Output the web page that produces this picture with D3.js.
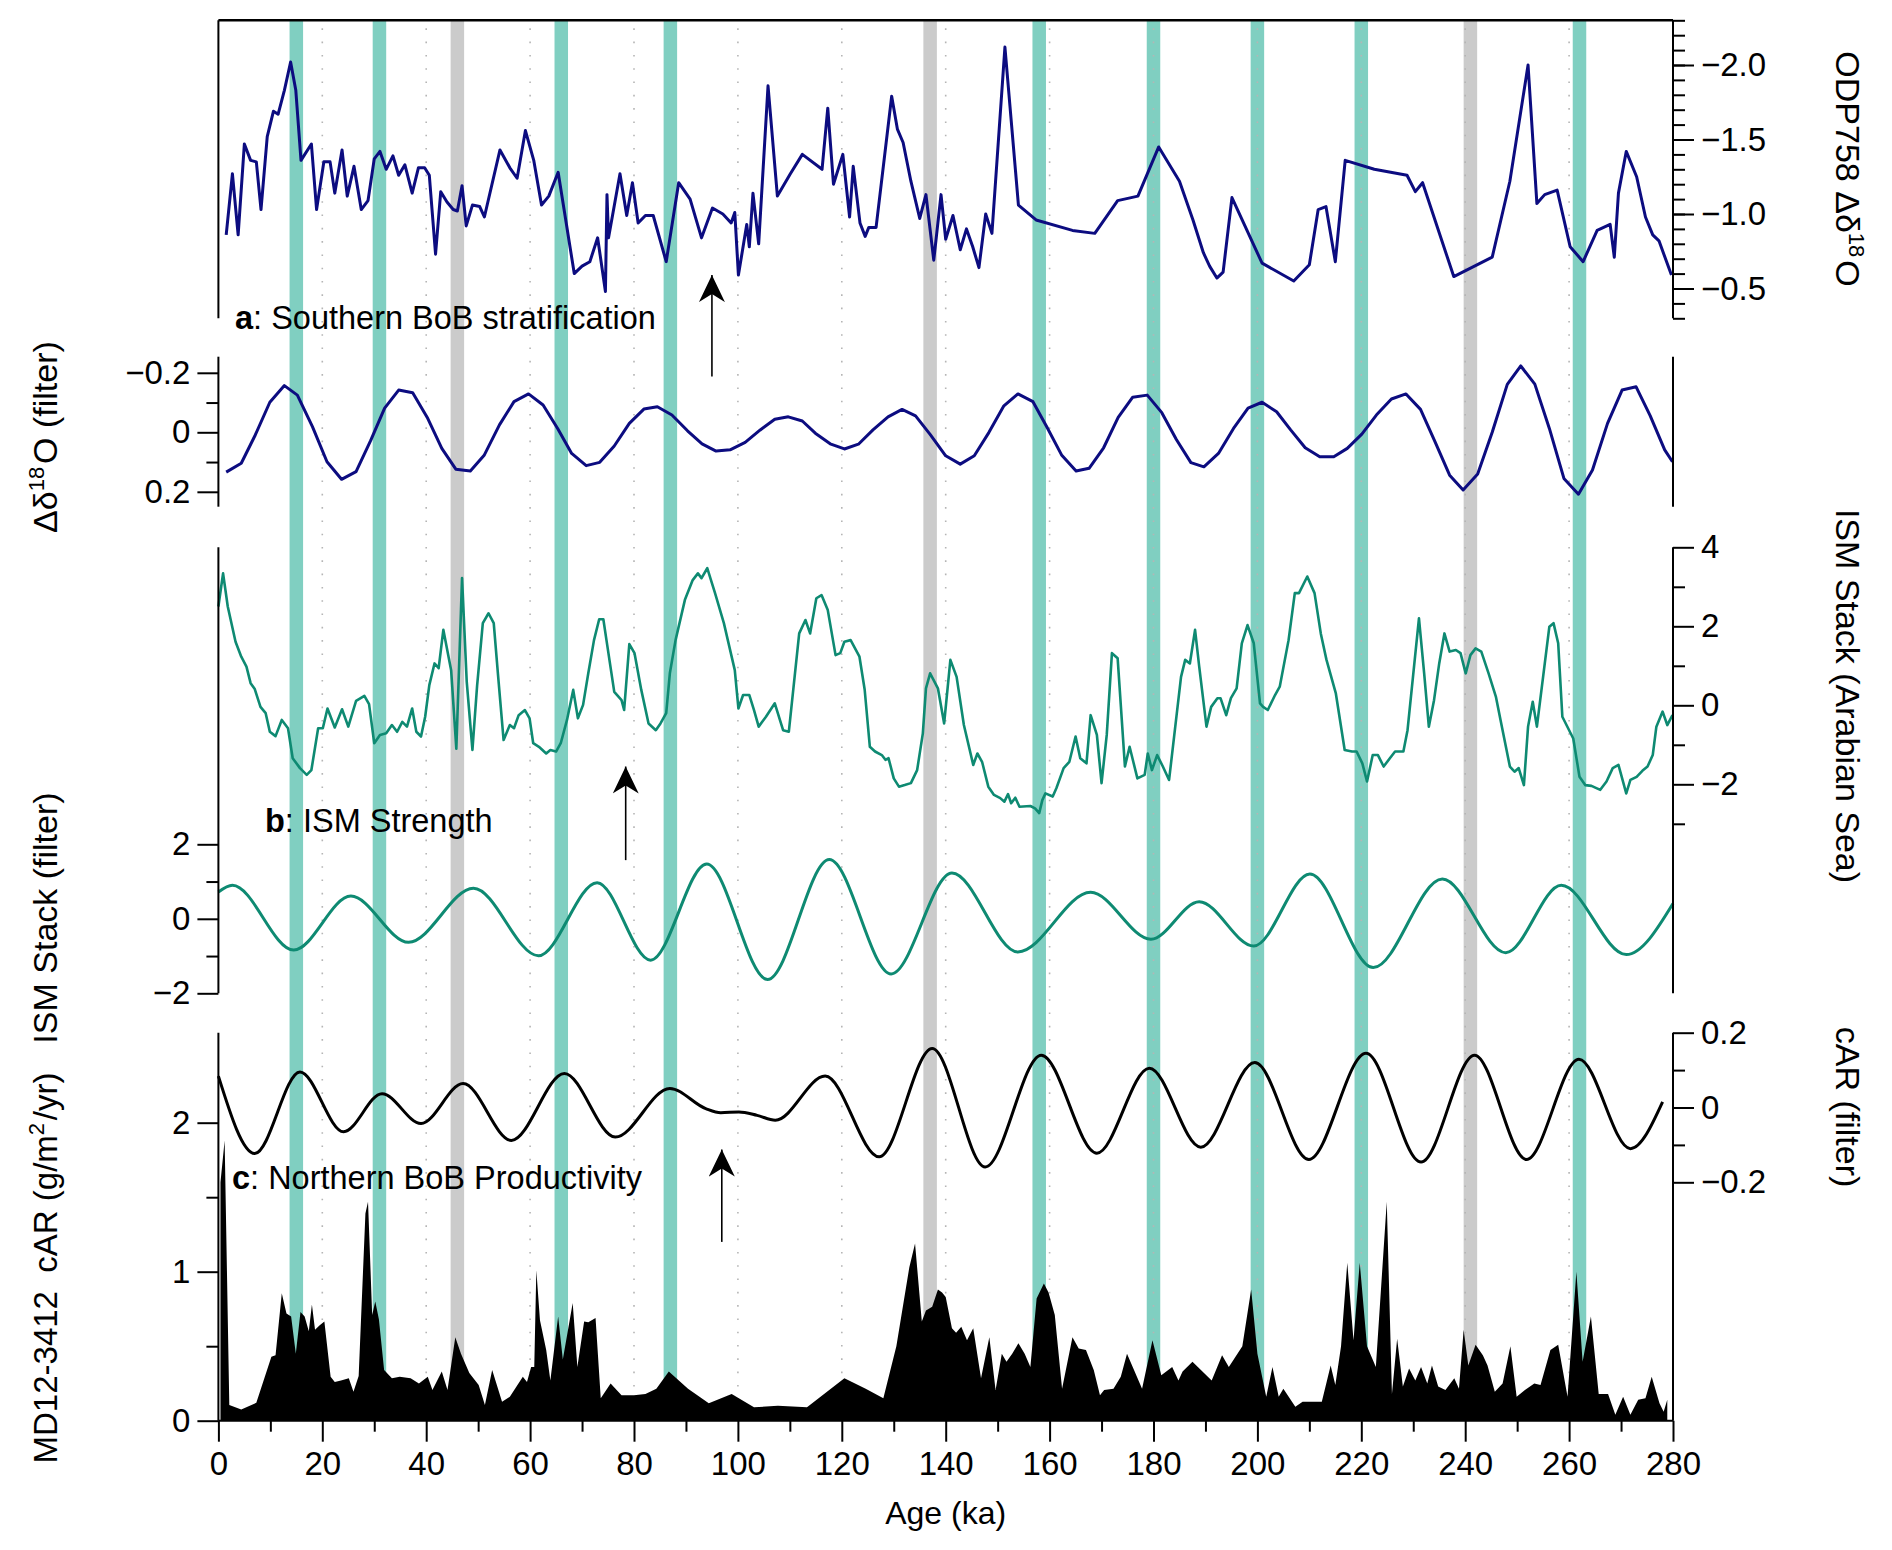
<!DOCTYPE html>
<html lang="en">
<head>
<meta charset="UTF-8">
<title>BoB stratification, ISM strength and productivity</title>
<script src="https://cdn.jsdelivr.net/npm/d3@7"></script>
<style>
  body { margin: 0; background: #fff; }
  svg text { font-family: "Liberation Sans", Arial, Helvetica, sans-serif; fill: #000; white-space: pre; }
</style>
</head>
<body>
<div id="chart"></div>
<script>
// ---- data ----
var tealBands = [15, 31, 66, 87, 158, 180, 200, 220, 262];
var greyBands = [46, 137, 241];
var xTicks = d3.range(0, 281, 20);
var xMinor = d3.range(10, 280, 20);

// a: ODP758 delta d18O (raw)
var odpAge = [1.5,2.7,3.8,5.0,6.2,7.3,8.2,9.4,10.6,11.5,12.7,13.9,14.9,15.9,17.9,18.9,20.3,21.5,22.4,23.8,24.8,26.1,27.5,28.8,30.0,31.1,32.3,33.6,34.7,35.9,37.3,38.5,39.7,40.6,41.8,42.8,44.0,45.2,46.0,46.9,47.7,48.9,50.3,51.2,54.2,56.1,57.5,59.1,60.7,62.2,63.6,65.4,68.5,70.0,71.5,73.0,74.5,74.8,75.1,77.3,78.6,79.7,80.8,82.2,83.7,86.2,88.6,90.8,93.0,95.1,97.1,98.7,99.4,100.1,101.7,102.2,102.9,104.0,105.8,107.6,110.1,112.4,116.2,117.3,118.4,120.2,121.5,122.2,123.5,124.5,125.2,126.6,129.6,130.7,131.8,133.3,135.0,136.2,137.7,139.1,140.0,141.4,142.8,144.0,145.2,146.4,147.7,148.9,151.4,154.0,157.4,164.4,168.7,173.1,177.0,181.0,185.0,187.6,189.6,190.8,192.2,193.4,195.1,200.9,207.0,210.0,211.7,213.2,215.0,216.9,222.5,228.8,230.4,231.8,237.8,245.2,248.6,252.1,253.8,255.3,257.7,260.2,262.7,265.4,267.9,268.7,269.5,271.0,273.0,274.7,276.1,277.3,279.7];
var odpVal = [-0.86,-1.27,-0.86,-1.47,-1.36,-1.35,-1.03,-1.52,-1.69,-1.67,-1.83,-2.02,-1.83,-1.36,-1.47,-1.03,-1.35,-1.35,-1.14,-1.43,-1.12,-1.32,-1.03,-1.09,-1.37,-1.42,-1.30,-1.39,-1.26,-1.33,-1.14,-1.31,-1.31,-1.26,-0.73,-1.15,-1.08,-1.03,-1.02,-1.19,-0.92,-1.06,-1.05,-0.98,-1.43,-1.31,-1.24,-1.56,-1.36,-1.06,-1.12,-1.28,-0.60,-0.65,-0.68,-0.84,-0.48,-1.13,-0.84,-1.27,-0.99,-1.21,-0.94,-0.99,-0.99,-0.68,-1.21,-1.10,-0.84,-1.04,-1.00,-0.94,-1.01,-0.59,-0.93,-0.78,-1.14,-0.80,-1.86,-1.12,-1.27,-1.40,-1.30,-1.71,-1.20,-1.40,-0.98,-1.32,-0.94,-0.85,-0.91,-0.91,-1.79,-1.57,-1.48,-1.22,-0.97,-1.13,-0.69,-1.13,-0.83,-0.99,-0.76,-0.90,-0.78,-0.64,-1.00,-0.87,-2.12,-1.06,-0.96,-0.89,-0.87,-1.09,-1.12,-1.45,-1.22,-0.96,-0.74,-0.65,-0.57,-0.61,-1.11,-0.67,-0.55,-0.66,-1.03,-1.05,-0.68,-1.36,-1.30,-1.26,-1.15,-1.21,-0.58,-0.71,-1.22,-2.00,-1.07,-1.13,-1.16,-0.78,-0.68,-0.89,-0.93,-0.71,-1.14,-1.42,-1.25,-0.98,-0.86,-0.82,-0.59];

// a: filtered
var odpFiltAge = [1.5,4.4,7.1,9.9,12.7,15.2,18.1,20.9,23.7,26.5,29.3,32.0,34.7,37.4,40.2,43.0,45.7,48.5,51.2,54.1,56.9,59.7,62.5,65.3,68.0,70.8,73.4,76.2,79.1,81.9,84.5,87.3,90.3,93.1,95.8,98.5,101.4,104.3,107.1,109.7,112.4,114.9,117.9,120.5,123.2,126.0,128.9,131.6,134.2,137.0,140.0,142.8,145.5,148.3,151.2,153.9,156.8,159.5,162.3,165.1,167.6,170.4,173.2,176.0,178.8,181.6,184.4,187.2,189.7,192.5,195.4,198.2,200.9,203.7,206.4,209.2,212.0,214.7,217.3,220.1,222.9,225.8,228.6,231.4,234.2,237.0,239.6,242.4,245.2,248.1,250.7,253.4,256.2,259.0,261.8,264.5,267.4,270.2,272.9,275.6,278.4,279.9];
var odpFiltVal = [0.134,0.104,0.009,-0.101,-0.157,-0.125,-0.019,0.099,0.158,0.132,0.028,-0.081,-0.142,-0.133,-0.050,0.054,0.124,0.130,0.076,-0.025,-0.103,-0.129,-0.092,-0.013,0.071,0.112,0.101,0.046,-0.030,-0.078,-0.086,-0.058,-0.005,0.039,0.063,0.059,0.034,-0.008,-0.044,-0.052,-0.038,0.003,0.040,0.056,0.040,-0.008,-0.052,-0.077,-0.055,0.007,0.079,0.107,0.079,0.001,-0.089,-0.129,-0.103,-0.017,0.076,0.130,0.121,0.052,-0.050,-0.118,-0.125,-0.066,0.024,0.102,0.116,0.071,-0.013,-0.081,-0.101,-0.069,-0.008,0.052,0.082,0.082,0.054,0.006,-0.058,-0.112,-0.129,-0.077,0.032,0.144,0.194,0.140,0.000,-0.161,-0.223,-0.162,-0.013,0.155,0.208,0.127,-0.030,-0.142,-0.153,-0.056,0.059,0.099];

// b: ISM stack (Arabian Sea)
var ismAge = [0,0.9,1.8,3.3,4.4,5.4,6.2,7.0,8.1,9.1,9.9,11.0,12.2,13.4,14.3,15.7,17.0,17.9,19.2,20.1,21.0,22.4,23.8,25.0,26.5,28.1,29.0,30.0,31.1,32.3,33.4,34.4,35.4,36.3,37.3,38.1,39.0,39.8,40.6,41.6,42.4,43.3,44.8,45.8,46.9,47.8,48.9,49.8,50.9,52.0,53.0,53.8,54.9,56.1,56.9,57.8,59.0,59.9,60.6,61.7,63.1,63.9,65.0,65.9,67.1,68.3,69.2,70.2,71.2,72.3,73.3,74.1,74.7,76.2,77.6,78.1,79.1,80.1,81.4,82.8,84.2,85.1,86.2,86.9,88.0,89.8,91.3,92.3,93.0,94.1,95.6,97.3,99.4,100.1,101.0,102.2,103.1,104.0,105.4,107.1,108.7,109.8,111.8,113.0,113.9,115.1,116.1,117.3,118.8,119.7,120.5,121.7,123.4,124.4,125.4,126.4,127.7,128.4,129.0,130.0,131.0,132.1,133.3,134.5,135.6,136.2,137.0,138.5,139.7,140.9,142.1,143.5,145.3,146.1,147.0,148.2,149.3,150.5,151.3,152.0,152.6,153.4,154.2,156.3,157.2,158.0,158.6,159.2,160.6,161.3,162.7,163.8,165.0,165.9,167.1,167.9,169.1,170.0,171.0,172.0,173.1,174.5,175.4,176.9,178.3,178.9,179.7,180.7,181.8,183.0,185.3,186.1,187.0,188.0,188.8,190.2,191.1,192.3,192.9,194.0,194.9,196.0,197.0,198.1,199.3,200.5,201.1,202.0,203.4,204.3,206.0,207.2,208.0,209.6,211.0,212.2,213.3,215.1,216.8,218.2,219.1,220.2,221.1,222.2,223.2,224.3,225.5,226.5,228.1,228.9,231.1,232.1,233.0,234.0,235.0,236.0,237.0,238.2,239.1,240.1,241.0,242.0,243.1,244.5,245.9,246.8,248.6,249.5,250.3,251.3,252.1,253.0,253.8,256.2,257.0,257.9,258.7,260.8,262.0,263.1,264.3,266.0,267.2,268.4,269.5,271.0,271.8,273.0,274.1,275.1,276.1,276.8,278.0,278.9,279.9];
var ismVal = [2.50,3.34,2.50,1.61,1.23,0.98,0.56,0.41,-0.04,-0.20,-0.67,-0.78,-0.37,-0.58,-1.34,-1.59,-1.76,-1.64,-0.58,-0.58,-0.08,-0.56,-0.10,-0.54,0.11,0.24,0.03,-0.96,-0.75,-0.71,-0.50,-0.67,-0.42,-0.54,-0.08,-0.67,-0.79,-0.29,0.51,1.06,0.94,1.91,0.89,-1.10,3.22,0.60,-1.13,0.50,2.08,2.33,2.08,0.81,-0.88,-0.50,-0.58,-0.25,-0.12,-0.33,-0.96,-1.05,-1.22,-1.13,-1.17,-0.96,-0.37,0.39,-0.33,0.01,0.81,1.65,2.18,2.18,1.65,0.34,0.13,-0.12,1.55,1.32,0.39,-0.46,-0.63,-0.46,-0.20,0.81,1.65,2.67,3.17,3.34,3.22,3.47,2.84,2.08,0.89,-0.08,0.26,0.26,-0.12,-0.54,-0.29,0.05,-0.63,-0.67,1.82,2.16,1.82,2.71,2.79,2.41,1.27,1.32,1.61,1.65,1.23,0.40,-1.05,-1.17,-1.26,-1.38,-1.34,-1.85,-2.06,-2.02,-1.97,-1.64,-0.71,0.43,0.81,0.43,-0.46,1.15,0.72,-0.50,-1.51,-1.22,-1.43,-2.06,-2.27,-2.35,-2.44,-2.25,-2.48,-2.34,-2.57,-2.55,-2.61,-2.73,-2.40,-2.23,-2.31,-2.10,-1.59,-1.43,-0.79,-1.34,-1.47,-0.25,-0.75,-1.97,-0.75,1.32,1.19,-1.55,-1.05,-1.85,-1.76,-1.22,-1.64,-1.26,-1.55,-1.89,0.72,1.15,1.06,1.91,0.98,-0.54,-0.04,0.18,0.18,-0.25,0.18,0.43,1.57,2.03,1.57,0.05,-0.04,-0.12,0.26,0.47,1.65,2.84,2.84,3.26,2.84,1.82,1.15,0.30,-1.13,-1.17,-1.17,-1.47,-1.93,-1.26,-1.26,-1.55,-1.34,-1.17,-1.17,-0.63,2.20,0.81,-0.54,0.13,1.06,1.82,1.36,1.40,1.32,0.81,1.27,1.44,1.36,0.81,0.22,-0.37,-1.55,-1.68,-1.59,-2.02,-0.54,0.09,-0.54,1.99,2.08,1.57,-0.29,-0.84,-1.81,-2.02,-2.04,-2.14,-1.93,-1.59,-1.51,-2.23,-1.89,-1.81,-1.66,-1.55,-1.26,-0.54,-0.16,-0.50,-0.25];

// b: ISM stack filtered (turning points)
var ismFiltAge = [0,2.7,14.5,25.5,36.6,49.1,61.6,72.9,83.2,94.0,105.7,117.6,129.5,141.2,153.9,167.9,179.5,188.8,199.3,210.1,222.3,235.6,247.8,258.5,271.0,280];
var ismFiltVal = [0.72,0.90,-0.84,0.61,-0.63,0.82,-0.99,0.97,-1.11,1.47,-1.63,1.59,-1.48,1.23,-0.89,0.71,-0.55,0.46,-0.73,1.20,-1.31,1.07,-0.91,0.90,-0.96,0.41];

// c: cAR filtered (turning points)
var carFiltAge = [0,7.0,15.7,24.1,31.5,39.0,47.1,56.4,66.6,76.4,86.9,93.8,96.7,100.2,103.7,107.2,116.8,127.2,137.4,147.6,158.4,169.1,179.2,189.1,199.5,209.9,220.9,231.5,241.8,251.8,261.9,271.8,278.0];
var carFiltVal = [0.084,-0.123,0.095,-0.065,0.037,-0.043,0.064,-0.088,0.091,-0.079,0.051,-0.003,-0.014,-0.012,-0.021,-0.034,0.084,-0.132,0.158,-0.159,0.140,-0.122,0.105,-0.106,0.120,-0.139,0.145,-0.146,0.140,-0.139,0.129,-0.110,0.015];

// c: MD12-3412 cAR
var carAge = [0.4,1.2,2.1,4.4,7.3,10.2,11.0,12.2,13.1,14.0,14.9,15.8,16.6,17.4,18.0,18.6,19.5,20.4,21.6,22.4,23.6,25.1,26.0,27.0,28.3,28.8,29.6,30.2,30.9,31.9,33.4,34.9,37.0,38.6,40.3,41.2,43.0,44.1,45.6,46.7,48.3,50.1,51.3,52.7,54.6,56.1,58.6,59.4,60.2,60.8,61.2,61.9,63.1,63.9,65.4,66.3,68.2,69.1,70.4,71.2,72.6,73.6,75.5,77.6,80.0,82.2,84.3,86.7,90.4,94.4,98.8,103.1,107.7,113.3,120.5,124.6,128.0,130.5,133.0,134.1,135.4,136.2,137.4,138.5,139.3,140.0,141.2,142.0,143.0,144.1,145.3,146.8,148.4,149.6,150.8,151.7,152.8,154.0,155.2,156.3,157.5,158.9,159.8,161.0,162.4,164.4,165.6,167.0,168.5,169.7,170.5,172.3,173.7,174.9,176.0,177.8,179.8,181.5,183.6,184.8,185.6,187.5,191.2,193.2,194.5,197.1,198.8,200.0,201.7,202.9,204.1,205.0,207.3,208.7,212.4,214.1,215.0,216.1,217.3,218.5,219.7,221.1,222.8,224.9,225.9,226.9,228.0,229.2,230.4,231.5,232.7,233.6,234.8,236.2,237.9,238.8,239.7,240.6,242.0,243.4,244.3,245.7,247.2,248.7,249.9,251.5,253.3,254.5,256.4,257.9,259.7,261.4,262.6,264.2,265.7,267.5,268.9,270.4,271.8,273.3,274.7,275.9,277.4,278.2,278.9];
var carVal = [1.60,1.88,0.105,0.076,0.12,0.43,0.44,0.855,0.72,0.70,0.45,0.73,0.70,0.60,0.78,0.61,0.64,0.665,0.295,0.26,0.27,0.285,0.195,0.30,1.39,1.47,0.71,0.80,0.68,0.34,0.285,0.295,0.285,0.25,0.295,0.206,0.33,0.206,0.56,0.45,0.32,0.24,0.105,0.34,0.128,0.16,0.295,0.26,0.36,0.36,1.01,0.675,0.475,0.27,0.70,0.41,0.79,0.36,0.665,0.66,0.69,0.15,0.25,0.17,0.17,0.18,0.215,0.33,0.215,0.117,0.18,0.09,0.10,0.09,0.285,0.215,0.15,0.50,1.03,1.19,0.665,0.74,0.765,0.88,0.86,0.83,0.62,0.59,0.63,0.54,0.62,0.285,0.56,0.206,0.45,0.395,0.45,0.52,0.45,0.36,0.82,0.92,0.86,0.71,0.215,0.56,0.485,0.475,0.34,0.17,0.206,0.215,0.295,0.45,0.36,0.215,0.54,0.305,0.36,0.27,0.33,0.395,0.27,0.44,0.36,0.50,0.88,0.45,0.16,0.36,0.16,0.215,0.094,0.128,0.128,0.37,0.24,0.50,1.06,0.54,1.06,0.50,0.36,1.47,0.18,0.55,0.23,0.35,0.27,0.36,0.25,0.37,0.23,0.206,0.285,0.215,0.61,0.37,0.51,0.44,0.37,0.195,0.25,0.50,0.16,0.206,0.25,0.24,0.475,0.51,0.16,1.00,0.395,0.70,0.18,0.18,0.04,0.16,0.04,0.14,0.15,0.295,0.117,0.06,0.14];

// arrows: [age, value at tail, value at tip], in each panel's own units
var arrowA = [95.0, 0.09, -0.59];
var arrowB = [78.4, -3.92, -1.55];
var arrowC = [96.9, 1.20, 1.82];

// ---- layout ----
var W = 1892, H = 1550;
var X0 = 218.4, X1 = 1673;
var BLUE = "#0c0c80", GREEN = "#0e8a72", TEAL = "#80cfc1", GREY = "#cbcbcb";

var svg = d3.select("#chart").append("svg")
    .attr("width", W).attr("height", H)
    .style("background", "#fff");

var x = d3.scaleLinear().domain([0, 280]).range([X0, X1]);

// y scales, one per curve
var yA  = d3.scaleLinear().domain([-2.3, -0.3]).range([20.3, 318.3]);
var yAf = d3.scaleLinear().domain([-0.2, 0.2]).range([372.8, 491.8]);
var yB  = d3.scaleLinear().domain([-2, 4]).range([784.3, 547.3]);
var yBf = d3.scaleLinear().domain([-2, 2]).range([993.3, 844.3]);
var yCf = d3.scaleLinear().domain([-0.2, 0.2]).range([1182.3, 1032.7]);
var yC  = d3.scaleLinear().domain([0, 2.6]).range([1420.7, 1033.3]);

var TOP = 20.3, BOTTOM = 1420.7;

function zip(a, b) { return a.map(function(v, i) { return [v, b[i]]; }); }

// shaded event bands
var bands = tealBands.map(function(c) { return {c: c, col: TEAL}; })
    .concat(greyBands.map(function(c) { return {c: c, col: GREY}; }));
svg.append("g").selectAll("rect")
    .data(bands)
    .enter().append("rect")
    .attr("x", function(d) { return x(d.c - 1.3); })
    .attr("width", function(d) { return x(d.c + 1.3) - x(d.c - 1.3); })
    .attr("y", TOP)
    .attr("height", BOTTOM - TOP)
    .attr("fill", function(d) { return d.col; });

// dotted guides every 20 ka
svg.append("g").selectAll("line")
    .data(d3.range(20, 280, 20))
    .enter().append("line")
    .attr("x1", function(d) { return x(d); })
    .attr("x2", function(d) { return x(d); })
    .attr("y1", TOP + 8).attr("y2", BOTTOM)
    .attr("stroke", "#b5b5b5")
    .attr("stroke-width", 1.6)
    .attr("stroke-dasharray", "1.6,11.7");

// c: cAR filled area
svg.append("path")
    .datum(zip(carAge, carVal))
    .attr("fill", "#000")
    .attr("d", d3.area()
        .x(function(d) { return x(d[0]); })
        .y0(yC(0))
        .y1(function(d) { return yC(d[1]); }));

// curves
function drawLine(data, y, color, width, curve) {
    svg.append("path")
        .datum(data)
        .attr("fill", "none")
        .attr("stroke", color)
        .attr("stroke-width", width)
        .attr("stroke-linejoin", "round")
        .attr("d", d3.line()
            .curve(curve || d3.curveLinear)
            .x(function(d) { return x(d[0]); })
            .y(function(d) { return y(d[1]); }));
}
drawLine(zip(odpAge, odpVal), yA, BLUE, 3);
drawLine(zip(odpFiltAge, odpFiltVal), yAf, BLUE, 3);
drawLine(zip(ismAge, ismVal), yB, GREEN, 2.6);
drawLine(zip(ismFiltAge, ismFiltVal), yBf, GREEN, 3, d3.curveMonotoneX);
drawLine(zip(carFiltAge, carFiltVal), yCf, "#000", 3, d3.curveMonotoneX);

// ---- axes ----
var fmtTick = function(d) { return d === 0 ? "0" : d3.format(".1f")(d); };
var fmtInt = d3.format("d");

function styleAxis(g) {
    g.select(".domain").remove();
    g.selectAll("line").attr("stroke", "#000").attr("stroke-width", 2);
    g.selectAll("text")
        .attr("font-size", 33)
        .attr("font-family", "'Liberation Sans', Arial, sans-serif")
        .attr("fill", "#000");
}
function addAxis(axis, tx, ty) {
    svg.append("g").attr("transform", "translate(" + tx + "," + ty + ")").call(axis).call(styleAxis);
}
function vline(xp, y1, y2) {
    svg.append("line").attr("x1", xp).attr("x2", xp).attr("y1", y1).attr("y2", y2)
        .attr("stroke", "#000").attr("stroke-width", 2);
}

// frame lines
svg.append("line").attr("x1", X0).attr("x2", X1).attr("y1", TOP).attr("y2", TOP)
    .attr("stroke", "#000").attr("stroke-width", 2.5);
vline(X0, TOP, 318.3);
vline(X1, TOP, 318.3);
vline(X0, 356.7, 506.7);
vline(X1, 356.7, 506.7);
vline(X0, 547.3, 993.3);
vline(X1, 547.3, 993.3);
vline(X0, 1032.7, BOTTOM);
vline(X1, 1032.7, BOTTOM);

// a: right axis
addAxis(d3.axisRight(yA).tickValues([-2, -1.5, -1, -0.5]).tickFormat(d3.format(".1f")).tickSize(21).tickPadding(7), X1, 0);
addAxis(d3.axisRight(yA).tickValues(d3.range(-23, -2, 1).map(function(d) { return d / 10; })).tickFormat("").tickSize(12), X1, 0);
// a filter: left axis
addAxis(d3.axisLeft(yAf).tickValues([-0.2, 0, 0.2]).tickFormat(fmtTick).tickSize(21).tickPadding(7), X0, 0);
addAxis(d3.axisLeft(yAf).tickValues([-0.1, 0.1]).tickFormat("").tickSize(12), X0, 0);
// b: right axis
addAxis(d3.axisRight(yB).tickValues([4, 2, 0, -2]).tickFormat(fmtInt).tickSize(21).tickPadding(7), X1, 0);
addAxis(d3.axisRight(yB).tickValues([3, 1, -1, -3]).tickFormat("").tickSize(12), X1, 0);
// b filter: left axis
addAxis(d3.axisLeft(yBf).tickValues([2, 0, -2]).tickFormat(fmtInt).tickSize(21).tickPadding(7), X0, 0);
addAxis(d3.axisLeft(yBf).tickValues([1, -1]).tickFormat("").tickSize(12), X0, 0);
// c filter: right axis
addAxis(d3.axisRight(yCf).tickValues([0.2, 0, -0.2]).tickFormat(fmtTick).tickSize(21).tickPadding(7), X1, 0);
addAxis(d3.axisRight(yCf).tickValues([0.1, -0.1]).tickFormat("").tickSize(12), X1, 0);
// c: left axis
addAxis(d3.axisLeft(yC).tickValues([0, 1, 2]).tickFormat(fmtInt).tickSize(21).tickPadding(7), X0, 0);
addAxis(d3.axisLeft(yC).tickValues([0.5, 1.5]).tickFormat("").tickSize(12), X0, 0);
// x axis
svg.append("line").attr("x1", X0).attr("x2", X1).attr("y1", BOTTOM).attr("y2", BOTTOM)
    .attr("stroke", "#000").attr("stroke-width", 2);
addAxis(d3.axisBottom(x).tickValues(xTicks).tickFormat(fmtInt).tickSize(21).tickPadding(10), 0, BOTTOM);
addAxis(d3.axisBottom(x).tickValues(xMinor).tickFormat("").tickSize(11), 0, BOTTOM);

svg.append("text")
    .attr("x", x(140)).attr("y", 1524)
    .attr("text-anchor", "middle")
    .attr("font-size", 32)
    .text("Age (ka)");

// ---- rotated axis titles ----
function rotLabel(xp, yp, angle, parts, size) {
    var t = svg.append("text")
        .attr("transform", "translate(" + xp + "," + yp + ") rotate(" + angle + ")")
        .attr("text-anchor", "middle")
        .attr("font-size", size || 34);
    parts.forEach(function(p) {
        if (p.sup) {
            t.append("tspan").attr("font-size", 22).attr("dy", -13).text(p.t);
            t.append("tspan").attr("dy", 13).text("\u200A");
        } else {
            t.append("tspan").text(p.t);
        }
    });
}
rotLabel(57, 437, -90, [{t: "\u0394\u03B4"}, {t: "18", sup: true}, {t: "O (filter)"}]);
rotLabel(57, 918, -90, [{t: "ISM Stack (filter)"}]);
rotLabel(57, 1268, -90, [{t: "MD12-3412  cAR (g/m"}, {t: "2", sup: true}, {t: "/yr)"}], 33);
rotLabel(1836, 169, 90, [{t: "ODP758 \u0394\u03B4"}, {t: "18", sup: true}, {t: "O"}]);
rotLabel(1836, 696, 90, [{t: "ISM Stack (Arabian Sea)"}]);
rotLabel(1836, 1107, 90, [{t: "cAR (filter)"}]);

// ---- panel titles ----
function panelTitle(xp, yp, letter, rest) {
    var t = svg.append("text").attr("x", xp).attr("y", yp).attr("font-size", 32.5);
    t.append("tspan").attr("font-weight", "bold").text(letter);
    t.append("tspan").text(rest);
}
panelTitle(235, 329, "a", ": Southern BoB stratification");
panelTitle(265, 832, "b", ": ISM Strength");
panelTitle(232, 1189, "c", ": Northern BoB Productivity");

// ---- arrows ----
var defs = svg.append("defs");
defs.append("marker")
    .attr("id", "head")
    .attr("viewBox", "0 0 30 26")
    .attr("refX", 27).attr("refY", 13)
    .attr("markerWidth", 30).attr("markerHeight", 26)
    .attr("markerUnits", "userSpaceOnUse")
    .attr("orient", "auto")
    .append("path")
    .attr("d", "M0,0 L27,13 L0,26 L8,13 Z")
    .attr("fill", "#000");

function arrow(a, y) {
    svg.append("line")
        .attr("x1", x(a[0])).attr("x2", x(a[0]))
        .attr("y1", y(a[1])).attr("y2", y(a[2]))
        .attr("stroke", "#000").attr("stroke-width", 1.6)
        .attr("marker-end", "url(#head)");
}
arrow(arrowA, yA);
arrow(arrowB, yB);
arrow(arrowC, yC);
</script>
</body>
</html>
